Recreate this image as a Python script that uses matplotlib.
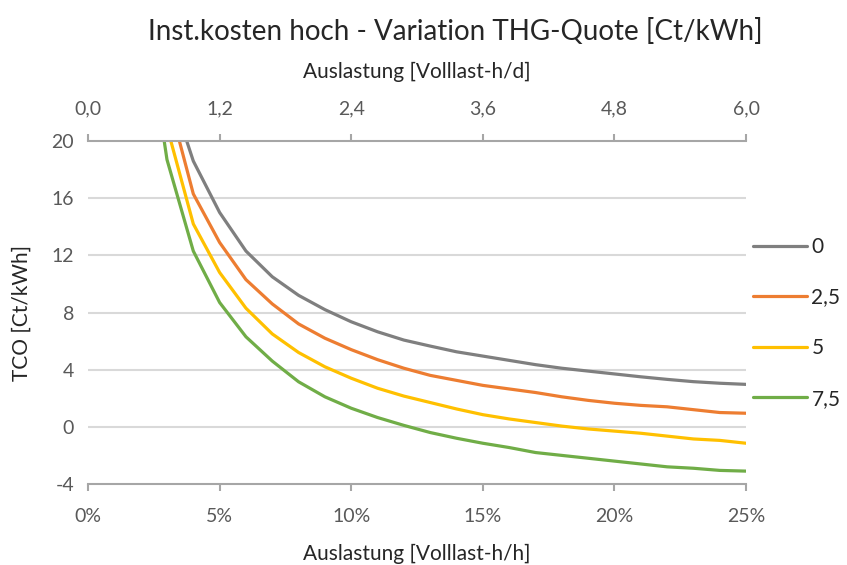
import numpy as np
import matplotlib.pyplot as plt
from matplotlib.ticker import FuncFormatter

plt.rcParams['font.family'] = ['Lato', 'DejaVu Sans']

# Auslastung in % (Volllast-h/h)
util = [2, 3, 4, 5, 6, 7, 8, 9, 10, 11, 12, 13, 14, 15, 16, 17, 18, 19, 20, 21, 22, 23, 24, 25]

# TCO in Ct/kWh je THG-Quote
tco_0 = [37.5, 24.2, 18.6, 15.0, 12.3, 10.5, 9.2, 8.2, 7.35, 6.65, 6.07, 5.65, 5.25, 4.95,
         4.65, 4.35, 4.1, 3.9, 3.7, 3.5, 3.32, 3.16, 3.05, 2.97]
tco_25 = [35.0, 23.3, 16.3, 12.9, 10.3, 8.6, 7.2, 6.2, 5.4, 4.7, 4.1, 3.6, 3.25, 2.9,
          2.65, 2.4, 2.1, 1.85, 1.65, 1.5, 1.4, 1.2, 1.0, 0.95]
tco_5 = [33.0, 21.0, 14.2, 10.8, 8.3, 6.5, 5.2, 4.2, 3.4, 2.7, 2.15, 1.7, 1.25, 0.85,
         0.55, 0.3, 0.05, -0.15, -0.3, -0.45, -0.65, -0.85, -0.95, -1.15]
tco_75 = [31.0, 18.7, 12.3, 8.7, 6.3, 4.6, 3.15, 2.1, 1.3, 0.65, 0.1, -0.4, -0.8, -1.15,
          -1.45, -1.8, -2.0, -2.2, -2.4, -2.6, -2.8, -2.9, -3.05, -3.1]

labels = ['0', '2,5', '5', '7,5']
colors = ['#7f7f7f', '#ed7d31', '#ffc000', '#70ad47']
series = [tco_0, tco_25, tco_5, tco_75]

x_ticks = [0, 5, 10, 15, 20, 25]
y_ticks = [-4, 0, 4, 8, 12, 16, 20]

txt = '#595959'
dark = '#262626'
axis_col = '#a6a6a6'

fig = plt.figure(figsize=(8.47, 5.65), dpi=100)
ax = fig.add_axes([0.1039, 0.1434, 0.777, 0.607])

for ys, c, lab in zip(series, colors, labels):
    ax.plot(util, ys, color=c, lw=2.3, label=lab, solid_capstyle='round')

ax.set_xlim(0, 25)
ax.set_ylim(-4, 20)
ax.set_xticks(x_ticks)
ax.set_yticks(y_ticks)
ax.xaxis.set_major_formatter(FuncFormatter(lambda v, p: f'{v:.0f}%'))
ax.yaxis.set_major_formatter(FuncFormatter(lambda v, p: f'{v:.0f}'))

for y in y_ticks[1:-1]:
    ax.axhline(y, color='#d9d9d9', lw=1.5, zorder=0)

for s in ['left', 'right']:
    ax.spines[s].set_visible(False)
for s in ['top', 'bottom']:
    ax.spines[s].set_color(axis_col)
    ax.spines[s].set_linewidth(1.5)

ax.tick_params(axis='x', colors=axis_col, length=5, width=1.5, labelcolor=txt,
               labelsize=14, pad=12)
ax.tick_params(axis='y', length=0, labelcolor=txt, labelsize=14, pad=10)

# zweite Achse oben: Volllaststunden pro Tag
top = ax.secondary_xaxis('top', functions=(lambda v: v * 0.24, lambda v: v / 0.24))
top.set_xticks([0, 1.2, 2.4, 3.6, 4.8, 6.0])
top.xaxis.set_major_formatter(FuncFormatter(lambda v, p: f'{v:.1f}'.replace('.', ',')))
top.spines['top'].set_visible(False)
top.tick_params(axis='x', colors=axis_col, length=5, width=1.5, labelcolor=txt,
                labelsize=14, pad=12)
top.set_xlabel('Auslastung [Volllast-h/d]', fontsize=15, color=dark, labelpad=16)

ax.set_xlabel('Auslastung [Volllast-h/h]', fontsize=15, color=dark, labelpad=14)
ax.set_ylabel('TCO [Ct/kWh]', fontsize=15, color=dark, labelpad=14)

fig.text(0.537, 0.945, 'Inst.kosten hoch - Variation THG-Quote [Ct/kWh]',
         ha='center', va='center', fontsize=20, color=dark)

ax.legend(loc='upper left', bbox_to_anchor=(0.998, 0.745), frameon=False,
          fontsize=15, handlelength=2.6, handletextpad=0.2, labelspacing=1.47,
          labelcolor=dark, borderaxespad=0)

fig.savefig('out.png', dpi=100)
